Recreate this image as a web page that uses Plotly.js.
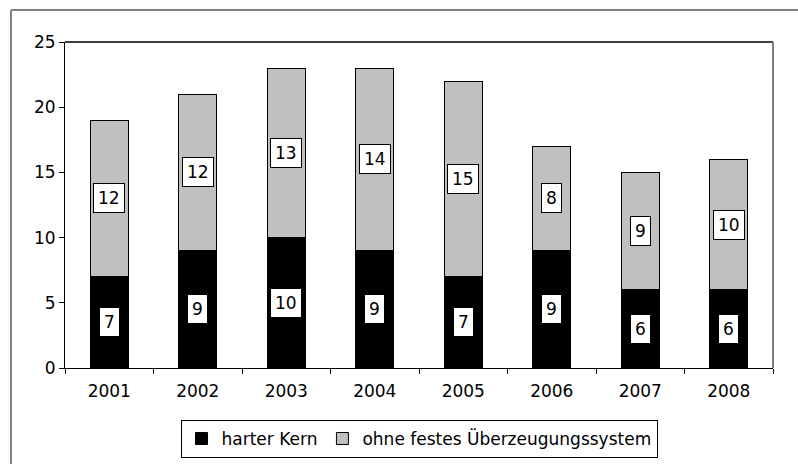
<!DOCTYPE html>
<html>
<head>
<meta charset="utf-8">
<script src="https://cdn.plot.ly/plotly-3.0.1.min.js"></script>
<style>
html,body{margin:0;padding:0;background:#fff;}
#chart{width:798px;height:464px;}
</style>
</head>
<body>
<div id="chart"></div>
<script>
var years = ["2001","2002","2003","2004","2005","2006","2007","2008"];
var harterKern = [7, 9, 10, 9, 7, 9, 6, 6];
var ohneSystem = [12, 12, 13, 14, 15, 8, 9, 10];
var seriesNames = ["harter Kern", "ohne festes Überzeugungssystem"];
var yTicks = [0, 5, 10, 15, 20, 25];

var FONT = "DejaVu Sans, Verdana, sans-serif";

var traces = [
  {type:"bar", name:seriesNames[0], x:years, y:harterKern, width:0.43,
   marker:{color:"#000000", line:{color:"#000000", width:1}}, hoverinfo:"none"},
  {type:"bar", name:seriesNames[1], x:years, y:ohneSystem, width:0.43,
   marker:{color:"#c0c0c0", line:{color:"#000000", width:1}}, hoverinfo:"none"}
];

var annotations = [];
years.forEach(function(yr, i){
  annotations.push({x:i, y:harterKern[i]/2, xref:"x", yref:"y", text:String(harterKern[i]),
    showarrow:false, bgcolor:"#ffffff", bordercolor:"#ffffff", borderwidth:1, borderpad:3,
    font:{family:FONT, size:17, color:"#000"}});
  annotations.push({x:i, y:harterKern[i] + ohneSystem[i]/2, xref:"x", yref:"y", text:String(ohneSystem[i]),
    showarrow:false, bgcolor:"#ffffff", bordercolor:"#000000", borderwidth:1, borderpad:4,
    font:{family:FONT, size:17, color:"#000"}});
});

var layout = {
  width:798, height:464,
  margin:{l:65, r:25, t:42, b:96},
  paper_bgcolor:"#ffffff", plot_bgcolor:"#ffffff",
  barmode:"stack",
  font:{family:FONT, size:17, color:"#000"},
  showlegend:true,
  legend:{orientation:"h", x:0.5, xanchor:"center", yref:"container", y:0.054, yanchor:"middle",
    traceorder:"normal",
    bordercolor:"#000000", borderwidth:1, font:{family:FONT, size:17, color:"#000"},
    itemwidth:30},
  xaxis:{type:"category", range:[-0.5, 7.5], autorange:false, showline:true, linecolor:"#000", linewidth:1,
    ticks:"outside", tickson:"boundaries", ticklen:5, tickcolor:"#000", tickangle:0,
    ticklabelstandoff:8,
    showgrid:false, zeroline:false, tickfont:{family:FONT, size:17}},
  yaxis:{range:[0,25], autorange:false, tickvals:yTicks, showline:true, linecolor:"#000", linewidth:1,
    ticks:"outside", ticklen:5, tickcolor:"#000", showgrid:false, zeroline:false,
    tickfont:{family:FONT, size:17}, ticksuffix:" "},
  annotations:annotations,
  shapes:[
    {type:"line", xref:"paper", yref:"paper", x0:0, x1:1, y0:1, y1:1, line:{color:"#000", width:1.5}},
    {type:"line", xref:"paper", yref:"paper", x0:1, x1:1, y0:0, y1:1, line:{color:"#808080", width:2}},
    {type:"line", xref:"paper", yref:"paper", x0:-0.0763, x1:1.05, y0:1.098, y1:1.098, line:{color:"#808080", width:2}},
    {type:"line", xref:"paper", yref:"paper", x0:-0.0763, x1:-0.0763, y0:1.098, y1:-0.35, line:{color:"#808080", width:2}}
  ]
};

Plotly.newPlot("chart", traces, layout, {displayModeBar:false, staticPlot:true});
</script>
</body>
</html>
